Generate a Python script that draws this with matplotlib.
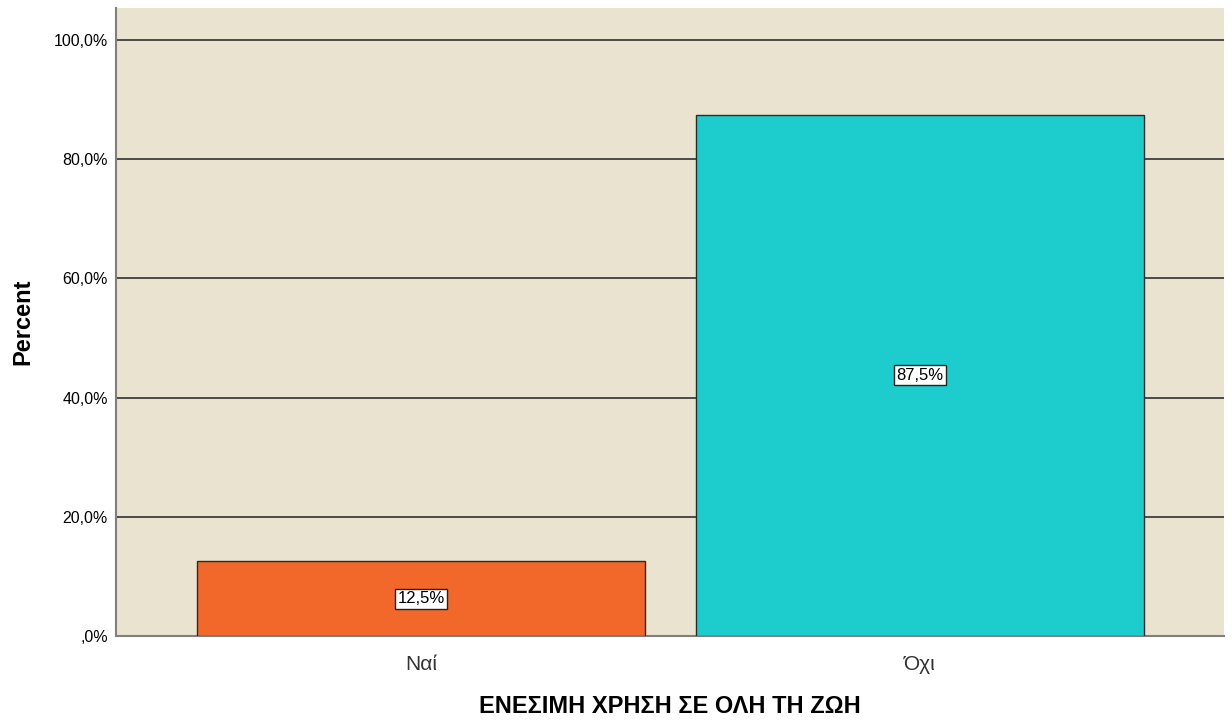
import matplotlib
matplotlib.use("Agg")
import matplotlib.pyplot as plt

categories = ["Ναί", "Όχι"]
percents = [12.5, 87.5]
bar_colors = ["#F2682A", "#1DCDCD"]
y_ticks = [0, 20, 40, 60, 80, 100]
y_tick_labels = [",0%", "20,0%", "40,0%", "60,0%", "80,0%", "100,0%"]

plt.rcParams["font.family"] = ["Liberation Sans", "DejaVu Sans"]

fig = plt.figure(figsize=(12.32, 7.2), dpi=100)
ax = fig.add_axes([0.0942, 0.1167, 0.8993, 0.8722])
ax.set_facecolor("#EAE3CF")

x = list(range(len(categories)))
ax.set_axisbelow(True)
ax.yaxis.grid(True, color="#4A4A4A", linewidth=1.4)
ax.bar(x, percents, width=0.898, color=bar_colors, edgecolor="#2A2A2A", linewidth=1.0, zorder=3)

for xi, v in zip(x, percents):
    ax.text(xi, v / 2, f"{v:.1f}%".replace(".", ","), ha="center", va="center", fontsize=12,
            zorder=4, bbox=dict(boxstyle="square,pad=0.15", facecolor="white", edgecolor="#222222", linewidth=1.0))

ax.set_xlim(-0.611, 1.609)
ax.set_ylim(0, 105.4)
ax.set_yticks(y_ticks)
ax.set_yticklabels(y_tick_labels, fontsize=11.5)
ax.set_xticks(x)
ax.set_xticklabels(categories, fontsize=15, color="#333333")
ax.tick_params(axis="y", length=0, pad=6)
ax.tick_params(axis="x", length=0, pad=14)

for side in ["top", "right"]:
    ax.spines[side].set_visible(False)
for side in ["left", "bottom"]:
    ax.spines[side].set_color("#7F7F7F")
    ax.spines[side].set_linewidth(1.5)

ax.set_ylabel("Percent", fontsize=17, fontweight="bold", labelpad=14)
ax.set_xlabel("ΕΝΕΣΙΜΗ ΧΡΗΣΗ ΣΕ ΟΛΗ ΤΗ ΖΩΗ", fontsize=17, fontweight="bold", labelpad=15)

fig.savefig("out.png", dpi=100, facecolor="white")
